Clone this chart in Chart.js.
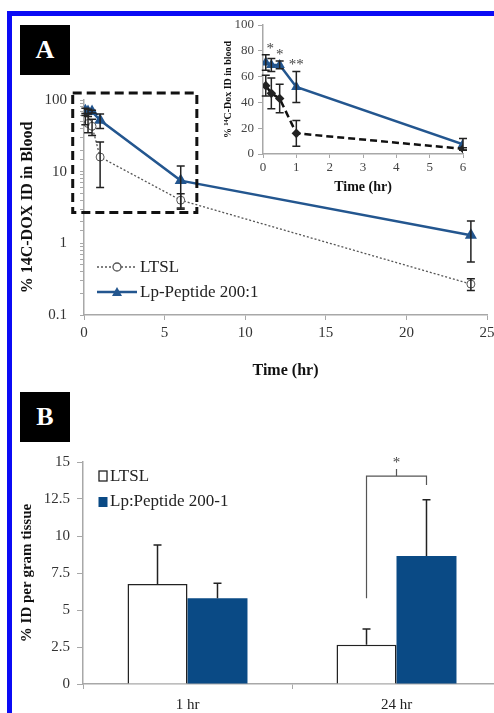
<!DOCTYPE html>
<html><head><meta charset="utf-8">
<script src="https://cdn.jsdelivr.net/npm/chart.js@4.4.1/dist/chart.umd.min.js"></script>
<style>
html,body{margin:0;padding:0;background:#fff;width:494px;height:713px;overflow:hidden;position:relative;}
.frame{position:absolute;left:7px;top:11px;width:600px;height:800px;border-left:5px solid #0b0bf5;border-top:5px solid #0b0bf5;box-sizing:border-box;}
.lab{position:absolute;left:20px;width:50px;height:50px;background:#000;color:#fff;font:bold 26px "Liberation Serif",serif;display:flex;align-items:center;justify-content:center;}
canvas{position:absolute;}
</style></head><body>
<div class="frame"></div>
<div class="lab" style="top:25px">A</div>
<div class="lab" style="top:392px">B</div>
<canvas id="cA" width="494" height="384" style="left:0;top:0"></canvas>
<canvas id="cI" width="276" height="190" style="left:218px;top:10px"></canvas>
<canvas id="cB" width="502" height="273" style="left:0;top:440px"></canvas>
<script>
// ---- Data ----
const timesHr = [0.083, 0.25, 0.5, 1, 6, 24];
const ltslBlood = [53, 47, 43, 16, 4, 0.27];
const ltslBloodErr = [8, 12, 11, 10, 0.9, 0.05];
const lpBlood = [71, 69, 69, 52, 7.5, 1.3];
const lpBloodErr = [6, 5, 3, 12, 4.5, 0.75];
const xTicksMain = [0, 5, 10, 15, 20, 25];
const yTicksMain = [0.1, 1, 10, 100];
const insetMaxHr = 6;
const stars = [{x: 0.22, y: 84, t: '*'}, {x: 0.5, y: 79, t: '*'}, {x: 1, y: 71, t: '**'}];
const zoomBoxX = [-0.7, 7];
const zoomBoxY = [2.7, 125];

const tissueCats = ['1 hr', '24 hr'];
const ltslTissue = [6.75, 2.65];
const ltslTissueErr = [2.65, 1.07];
const lpTissue = [5.8, 8.65];
const lpTissueErr = [1.0, 3.8];
const sigBracketY = 14.05;

// ---- Styles ----
const serif = '"Liberation Serif","Times New Roman",serif';
const lpBlue = '#23568f';
const barBlue = '#0a4a85';
const axisGray = '#a8a8a8';

const errPlugin = {
  id: 'err',
  afterDatasetsDraw(chart) {
    const ctx = chart.ctx;
    chart.data.datasets.forEach((ds, di) => {
      if (!ds.errors) return;
      const meta = chart.getDatasetMeta(di);
      const ys = chart.scales[meta.yAxisID];
      ctx.save();
      ctx.strokeStyle = ds.errColor || '#222';
      ctx.lineWidth = 1.5;
      meta.data.forEach((el, i) => {
        const d = ds.data[i];
        const v = (typeof d === 'object') ? d.y : d;
        const e = ds.errors[i];
        const x = el.x;
        const yTop = ys.getPixelForValue(v + e);
        const yBot = ds.errUpOnly ? el.y : ys.getPixelForValue(v - e);
        const cap = ds.capW || 4;
        ctx.beginPath();
        ctx.moveTo(x, yTop); ctx.lineTo(x, yBot);
        ctx.moveTo(x - cap, yTop); ctx.lineTo(x + cap, yTop);
        if (!ds.errUpOnly) { ctx.moveTo(x - cap, yBot); ctx.lineTo(x + cap, yBot); }
        ctx.stroke();
      });
      ctx.restore();
    });
  }
};

// ---- Panel A main ----
const boxPlugin = {
  id: 'box',
  afterDraw(chart) {
    const {ctx, scales: {x, y}} = chart;
    ctx.save();
    ctx.strokeStyle = '#111'; ctx.lineWidth = 3; ctx.setLineDash([9, 5]);
    const x0 = x.getPixelForValue(zoomBoxX[0]), x1 = x.getPixelForValue(zoomBoxX[1]);
    const y0 = y.getPixelForValue(zoomBoxY[1]), y1 = y.getPixelForValue(zoomBoxY[0]);
    ctx.strokeRect(x0, y0, x1 - x0, y1 - y0);
    ctx.restore();
    // legend
    const ds = chart.data.datasets;
    ctx.save();
    ctx.font = '17px ' + serif; ctx.fillStyle = '#222'; ctx.textBaseline = 'middle';
    // LTSL
    let ly = 267;
    ctx.strokeStyle = '#555'; ctx.lineWidth = 1.3; ctx.setLineDash([2, 2]);
    ctx.beginPath(); ctx.moveTo(97, ly); ctx.lineTo(137, ly); ctx.stroke();
    ctx.setLineDash([]);
    ctx.fillStyle = '#fff'; ctx.beginPath(); ctx.arc(117, ly, 4, 0, Math.PI * 2); ctx.fill(); ctx.stroke();
    ctx.fillStyle = '#222'; ctx.fillText(ds[0].label, 140, ly + 1);
    // Lp
    ly = 292;
    ctx.strokeStyle = lpBlue; ctx.lineWidth = 2.5;
    ctx.beginPath(); ctx.moveTo(97, ly); ctx.lineTo(137, ly); ctx.stroke();
    ctx.fillStyle = lpBlue; ctx.beginPath(); ctx.moveTo(117, ly - 5); ctx.lineTo(122, ly + 4); ctx.lineTo(112, ly + 4); ctx.closePath(); ctx.fill();
    ctx.fillStyle = '#222'; ctx.fillText(ds[1].label, 140, ly + 1);
    ctx.restore();
  }
};

new Chart(document.getElementById('cA'), {
  type: 'line',
  data: {
    datasets: [
      {label: 'LTSL', data: timesHr.map((t, i) => ({x: t, y: ltslBlood[i]})), errors: ltslBloodErr,
        borderColor: '#555', borderWidth: 1.3, borderDash: [2, 2], pointStyle: 'circle', pointRadius: 4,
        pointBackgroundColor: '#fff', pointBorderColor: '#555', pointBorderWidth: 1, capW: 4},
      {label: 'Lp-Peptide 200:1', data: timesHr.map((t, i) => ({x: t, y: lpBlood[i]})), errors: lpBloodErr,
        borderColor: lpBlue, borderWidth: 2.5, pointStyle: 'triangle', pointRadius: 4.5,
        pointBackgroundColor: lpBlue, pointBorderColor: lpBlue, capW: 4}
    ]
  },
  options: {
    responsive: false, animation: false,
    layout: {padding: {top: 100, right: 7, left: 0, bottom: 0}},
    plugins: {legend: {display: false}, tooltip: {enabled: false}},
    scales: {
      x: {type: 'linear', min: 0, max: 25,
        afterBuildTicks(s) { s.ticks = xTicksMain.map(v => ({value: v})); },
        ticks: {font: {family: serif, size: 15}, color: '#333', padding: 4, maxRotation: 0},
        grid: {drawOnChartArea: false, color: axisGray, tickLength: 5},
        border: {color: axisGray, width: 1.5},
        title: {display: true, text: 'Time (hr)', font: {family: serif, size: 16, weight: 'bold'}, color: '#111', padding: {top: 4, bottom: 4}},
        afterFit(s) { s.height = 69; s.paddingLeft = 0; s.paddingRight = 0; }
      },
      y: {type: 'logarithmic', min: 0.1, max: 100,
        ticks: {font: {family: serif, size: 15}, color: '#333', padding: 13, autoSkip: false,
          callback(v) { return yTicksMain.some(t => Math.abs(t - v) < 1e-9) ? String(v) : ''; }},
        grid: {drawOnChartArea: false, color: axisGray, tickLength: 4},
        border: {color: axisGray, width: 1.5},
        title: {display: true, text: '% 14C-DOX ID in Blood', font: {family: serif, size: 16, weight: 'bold'}, color: '#111', padding: {top: 18, bottom: 4}},
        afterFit(s) { s.width = 84; s.paddingTop = 0; s.paddingBottom = 0; }
      }
    }
  },
  plugins: [errPlugin, boxPlugin]
});

// ---- Panel A inset ----
const starPlugin = {
  id: 'stars',
  afterDraw(chart) {
    const {ctx, scales: {x, y}} = chart;
    ctx.save();
    ctx.font = '15px ' + serif; ctx.fillStyle = '#444'; ctx.textAlign = 'center'; ctx.textBaseline = 'middle';
    stars.forEach(s => ctx.fillText(s.t, x.getPixelForValue(s.x), y.getPixelForValue(s.y) + 3));
    ctx.restore();
  }
};
const insetIdx = timesHr.map((t, i) => i).filter(i => timesHr[i] <= insetMaxHr);
new Chart(document.getElementById('cI'), {
  type: 'line',
  data: {
    datasets: [
      {label: 'LTSL', data: insetIdx.map(i => ({x: timesHr[i], y: ltslBlood[i]})), errors: insetIdx.map(i => ltslBloodErr[i]),
        borderColor: '#111', borderWidth: 2.5, borderDash: [7, 4], pointStyle: 'rectRot', pointRadius: 3,
        pointBackgroundColor: '#222', pointBorderColor: '#222', capW: 4},
      {label: 'Lp-Peptide 200:1', data: insetIdx.map(i => ({x: timesHr[i], y: lpBlood[i]})), errors: insetIdx.map(i => lpBloodErr[i]),
        borderColor: lpBlue, borderWidth: 2.5, pointStyle: 'triangle', pointRadius: 3.5,
        pointBackgroundColor: lpBlue, pointBorderColor: lpBlue, capW: 4}
    ]
  },
  options: {
    responsive: false, animation: false,
    layout: {padding: {top: 15, right: 31, left: 0, bottom: 0}},
    plugins: {legend: {display: false}, tooltip: {enabled: false}},
    scales: {
      x: {type: 'linear', min: 0, max: insetMaxHr,
        ticks: {stepSize: 1, font: {family: serif, size: 13}, color: '#444', padding: 2, maxRotation: 0},
        grid: {drawOnChartArea: false, color: axisGray, tickLength: 4},
        border: {color: axisGray, width: 1.5},
        title: {display: true, text: 'Time (hr)', font: {family: serif, size: 14, weight: 'bold'}, color: '#111', padding: {top: 2, bottom: 4}},
        afterFit(s) { s.height = 46; s.paddingLeft = 0; s.paddingRight = 0; }
      },
      y: {type: 'linear', min: 0, max: 100,
        ticks: {stepSize: 20, font: {family: serif, size: 13}, color: '#444', padding: 4},
        grid: {drawOnChartArea: false, color: axisGray, tickLength: 5},
        border: {color: axisGray, width: 1.5},
        title: {display: true, text: '% \u00B9\u2074C-Dox ID in blood', font: {family: serif, size: 10, weight: 'bold'}, color: '#111', padding: {top: 4, bottom: 0}},
        afterFit(s) { s.width = 45; s.paddingTop = 0; s.paddingBottom = 0; }
      }
    }
  },
  plugins: [errPlugin, starPlugin]
});

// ---- Panel B ----
const bPlugin = {
  id: 'bextra',
  afterDraw(chart) {
    const {ctx, scales: {y}} = chart;
    const b0 = chart.getDatasetMeta(0).data[1], b1 = chart.getDatasetMeta(1).data[1];
    const yb = y.getPixelForValue(sigBracketY);
    ctx.save();
    ctx.strokeStyle = '#555'; ctx.lineWidth = 1.2;
    ctx.beginPath();
    ctx.moveTo(b0.x, y.getPixelForValue(lpTissue[0])); ctx.lineTo(b0.x, yb); ctx.lineTo(b1.x, yb); ctx.lineTo(b1.x, yb + 9);
    const cx = (b0.x + b1.x) / 2;
    ctx.moveTo(cx, yb); ctx.lineTo(cx, yb - 7);
    ctx.stroke();
    ctx.font = '15px ' + serif; ctx.fillStyle = '#444'; ctx.textAlign = 'center'; ctx.textBaseline = 'middle';
    ctx.fillText('*', cx, yb - 13);
    // legend
    const ds = chart.data.datasets;
    ctx.textAlign = 'left';
    ctx.font = '17px ' + serif; ctx.fillStyle = '#222';
    ctx.strokeStyle = '#222'; ctx.lineWidth = 1.3;
    ctx.fillStyle = '#fff'; ctx.fillRect(99, 471 - 440, 8, 10); ctx.strokeRect(99, 471 - 440, 8, 10);
    ctx.fillStyle = '#222'; ctx.fillText(ds[0].label, 110, 477 - 440);
    ctx.fillStyle = barBlue; ctx.fillRect(98.5, 497 - 440, 9, 10);
    ctx.fillStyle = '#222'; ctx.fillText(ds[1].label, 110, 502 - 440);
    ctx.restore();
  }
};
new Chart(document.getElementById('cB'), {
  type: 'bar',
  data: {
    labels: tissueCats,
    datasets: [
      {label: 'LTSL', data: ltslTissue, errors: ltslTissueErr, errUpOnly: true, capW: 4,
        backgroundColor: '#fff', borderColor: '#222', borderWidth: 1.5},
      {label: 'Lp:Peptide 200-1', data: lpTissue, errors: lpTissueErr, errUpOnly: true, capW: 4,
        backgroundColor: barBlue, borderWidth: 0}
    ]
  },
  options: {
    responsive: false, animation: false,
    datasets: {bar: {categoryPercentage: 0.574, barPercentage: 1}},
    layout: {padding: {top: 22, right: 1, left: 0, bottom: 0}},
    plugins: {legend: {display: false}, tooltip: {enabled: false}},
    scales: {
      x: {ticks: {font: {family: serif, size: 15}, color: '#222', padding: 7},
        grid: {drawOnChartArea: false, offset: true, color: axisGray, tickLength: 5},
        border: {color: axisGray, width: 1.5},
        afterFit(s) { s.height = 29; s.paddingLeft = 0; s.paddingRight = 0; }
      },
      y: {min: 0, max: 15,
        ticks: {stepSize: 2.5, font: {family: serif, size: 15}, color: '#333', padding: 7},
        grid: {drawOnChartArea: false, color: axisGray, tickLength: 6},
        border: {color: axisGray, width: 1.5},
        title: {display: true, text: '% ID per gram tissue', font: {family: serif, size: 15, weight: 'bold'}, color: '#111', padding: {top: 18, bottom: 4}},
        afterFit(s) { s.width = 83; s.paddingTop = 0; s.paddingBottom = 0; }
      }
    }
  },
  plugins: [errPlugin, bPlugin]
});
</script>
</body></html>
